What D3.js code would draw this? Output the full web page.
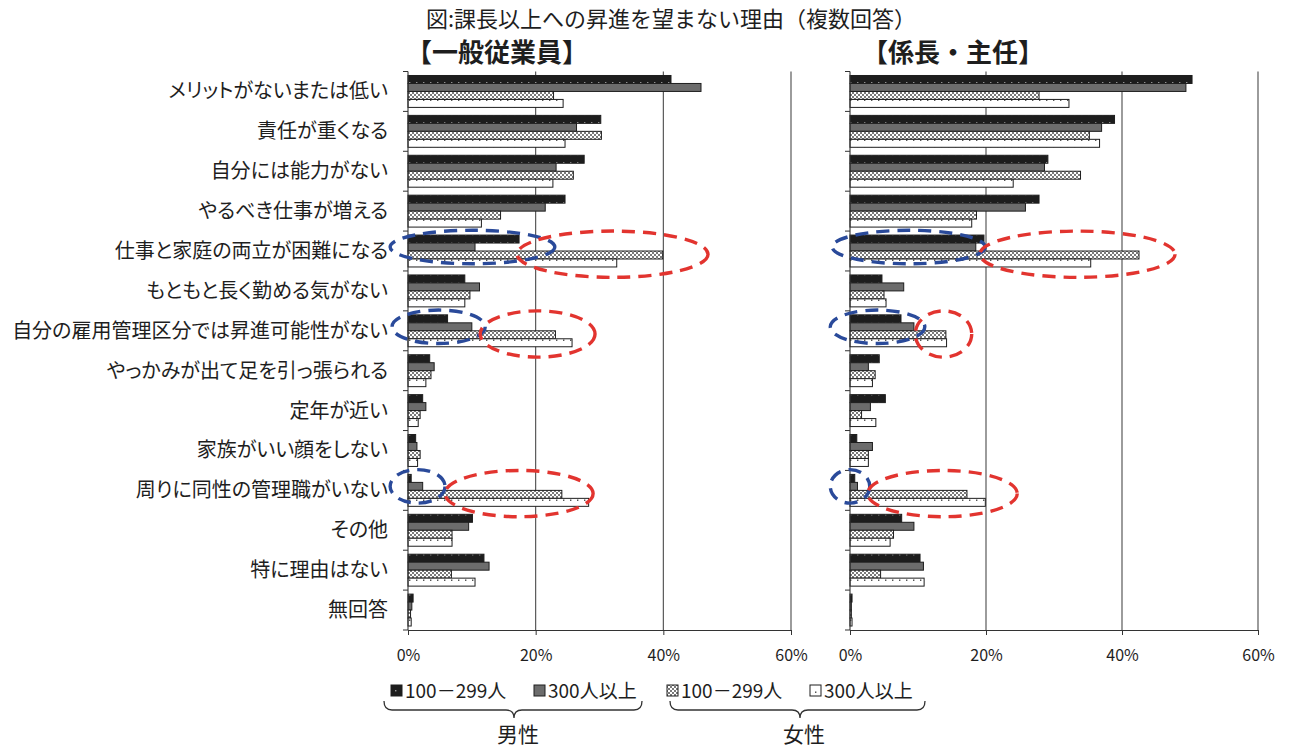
<!DOCTYPE html>
<html><head><meta charset="utf-8">
<script src="https://cdn.jsdelivr.net/npm/d3@7"></script>
<style>
html,body{margin:0;padding:0;background:#fff;}
svg{display:block;font-family:"Noto Sans CJK JP","Noto Sans",sans-serif;}
.lbl{font-feature-settings:"palt";}
</style></head><body>
<svg id="chart" width="1289" height="752"></svg>
<script>
// 理由（カテゴリ）
const categories = [
  "メリットがないまたは低い",
  "責任が重くなる",
  "自分には能力がない",
  "やるべき仕事が増える",
  "仕事と家庭の両立が困難になる",
  "もともと長く勤める気がない",
  "自分の雇用管理区分では昇進可能性がない",
  "やっかみが出て足を引っ張られる",
  "定年が近い",
  "家族がいい顔をしない",
  "周りに同性の管理職がいない",
  "その他",
  "特に理由はない",
  "無回答"
];

const chartTitle = "図:課長以上への昇進を望まない理由（複数回答）";
const panelTitles = ["【一般従業員】", "【係長・主任】"];
const legendLabels = ["100－299人", "300人以上", "100－299人", "300人以上"];
const groupLabels = ["男性", "女性"];
const xTicks = [0, 20, 40, 60];

// 一般従業員（%）
const ippanMale100   = [41.2, 30.2, 27.6, 24.6, 17.4, 8.9, 6.2, 3.4, 2.3, 1.2, 0.5, 10.1, 11.9, 0.8];
const ippanMale300   = [45.9, 26.4, 23.2, 21.5, 10.5, 11.2, 10.0, 4.1, 2.8, 1.4, 2.3, 9.5, 12.7, 0.6];
const ippanFemale100 = [22.8, 30.3, 25.9, 14.5, 39.9, 9.7, 23.1, 3.6, 1.9, 1.9, 24.1, 6.9, 6.8, 0.4];
const ippanFemale300 = [24.3, 24.6, 22.7, 11.5, 32.7, 8.9, 25.7, 2.8, 1.6, 1.5, 28.3, 6.9, 10.5, 0.5];

// 係長・主任（%）
const kakariMale100   = [50.3, 38.9, 29.1, 27.8, 19.7, 4.7, 7.5, 4.3, 5.2, 1.0, 0.7, 7.6, 10.3, 0.3];
const kakariMale300   = [49.4, 37.0, 28.6, 25.8, 18.5, 7.9, 9.4, 2.7, 3.0, 3.3, 1.1, 9.4, 10.8, 0.2];
const kakariFemale100 = [27.8, 35.2, 33.9, 18.6, 42.5, 5.0, 14.1, 3.7, 1.7, 2.7, 17.2, 6.4, 4.5, 0.2];
const kakariFemale300 = [32.2, 36.7, 24.0, 17.9, 35.4, 5.3, 14.2, 3.3, 3.8, 2.7, 19.9, 5.9, 10.9, 0.3];

// 強調の囲み：パネル, カテゴリ番号, 範囲（%）, 色
const markPanel = [0, 0, 0, 0, 0, 0, 1, 1, 1, 1, 1, 1];
const markCat   = [4, 4, 6, 6, 10, 10, 4, 4, 6, 6, 10, 10];
const markLo    = [-2.8, 17.1, -2.5, 11.3, -2.8, 5.8, -2.6, 19.1, -2.9, 9.6, -2.9, 2.6];
const markHi    = [23.0, 47.0, 12.1, 29.3, 5.8, 29.0, 19.9, 47.8, 11.0, 17.9, 2.9, 24.6];
const markKind  = ["b", "r", "b", "r", "b", "r", "b", "r", "b", "r", "b", "r"];

const svg = d3.select("#chart");
const defs = svg.append("defs");

// 塗りパターン
const pDark = defs.append("pattern").attr("id", "pDark").attr("patternUnits", "userSpaceOnUse")
  .attr("width", 7).attr("height", 8);
pDark.append("rect").attr("width", 7).attr("height", 8).attr("fill", "#1d1d1d");
pDark.append("rect").attr("x", 3).attr("y", 2).attr("width", 1.4).attr("height", 1.4).attr("fill", "#9a9a9a");

const pCheck = defs.append("pattern").attr("id", "pCheck").attr("patternUnits", "userSpaceOnUse")
  .attr("width", 4).attr("height", 4);
pCheck.append("rect").attr("width", 4).attr("height", 4).attr("fill", "#fff");
pCheck.append("rect").attr("width", 2).attr("height", 2).attr("fill", "#7a7a7a");
pCheck.append("rect").attr("x", 2).attr("y", 2).attr("width", 2).attr("height", 2).attr("fill", "#7a7a7a");

const pWhite = defs.append("pattern").attr("id", "pWhite").attr("patternUnits", "userSpaceOnUse")
  .attr("width", 7).attr("height", 8);
pWhite.append("rect").attr("width", 7).attr("height", 8).attr("fill", "#fff");
pWhite.append("rect").attr("x", 3).attr("y", 3.5).attr("width", 1.4).attr("height", 1.4).attr("fill", "#444");

const seriesFill = ["url(#pDark)", "#6c6c6c", "url(#pCheck)", "url(#pWhite)"];
const ink = "#1e1e1e";

const panels = [
  { title: panelTitles[0], titleX: 406, range: [408, 791],
    series: [ippanMale100, ippanMale300, ippanFemale100, ippanFemale300] },
  { title: panelTitles[1], titleX: 862, range: [850, 1258],
    series: [kakariMale100, kakariMale300, kakariFemale100, kakariFemale300] }
];

const plotTop = 71.5, plotBottom = 630;
const y = d3.scaleBand().domain(d3.range(categories.length))
  .range([plotTop, plotBottom]).paddingInner(0.2).paddingOuter(0.1);
const step = y.step();
const ySub = d3.scaleBand().domain(d3.range(4)).range([0, y.bandwidth()]);

// タイトル
svg.append("text").attr("x", 671).attr("y", 27)
  .attr("text-anchor", "middle").attr("font-size", 22).attr("fill", ink).text(chartTitle);

// カテゴリラベル
svg.append("g").selectAll("text").data(categories).join("text")
  .attr("class", "lbl")
  .attr("x", 388).attr("y", (d, i) => y(i) + y.bandwidth() / 2)
  .attr("dy", "0.35em").attr("text-anchor", "end")
  .attr("font-size", 20).attr("fill", ink).text(d => d);

panels.forEach((p, pi) => {
  const x = d3.scaleLinear().domain([0, 60]).range(p.range);
  const g = svg.append("g");

  g.append("text").attr("x", p.titleX).attr("y", 62).attr("font-size", 26)
    .attr("font-weight", 700).attr("fill", ink).text(p.title);

  // 目盛り線
  g.append("g").selectAll("line").data(xTicks.slice(1)).join("line")
    .attr("x1", d => x(d)).attr("x2", d => x(d))
    .attr("y1", plotTop).attr("y2", plotBottom)
    .attr("stroke", "#4a4a4a").attr("stroke-width", 1.1);

  // 棒
  p.series.forEach((vals, si) => {
    g.append("g").selectAll("rect").data(vals).join("rect")
      .attr("x", x(0))
      .attr("y", (d, i) => y(i) + ySub(si))
      .attr("width", d => Math.max(0, x(d) - x(0)))
      .attr("height", ySub.bandwidth())
      .attr("fill", seriesFill[si])
      .attr("stroke", ink).attr("stroke-width", 1);
  });

  // X軸
  const ax = g.append("g").attr("transform", `translate(0,${plotBottom})`)
    .call(d3.axisBottom(x).tickValues(xTicks).tickFormat(d => d + "%").tickSize(5).tickPadding(15));
  ax.select(".domain").attr("stroke", "#333");
  ax.selectAll(".tick line").attr("stroke", "#333");
  ax.selectAll("text").attr("font-size", 16).attr("fill", ink)
    .attr("font-family", '"Noto Sans CJK JP","Noto Sans",sans-serif');

  // Y軸（区切り目盛り）
  g.append("line").attr("x1", x(0)).attr("x2", x(0)).attr("y1", plotTop).attr("y2", plotBottom)
    .attr("stroke", "#333").attr("stroke-width", 1.1);
  g.append("g").selectAll("line").data(d3.range(categories.length + 1)).join("line")
    .attr("x1", x(0) - 5).attr("x2", x(0))
    .attr("y1", i => plotTop + i * step).attr("y2", i => plotTop + i * step)
    .attr("stroke", "#333");

  // 強調の囲み
  d3.range(markPanel.length).filter(k => markPanel[k] === pi).forEach(k => {
    const red = markKind[k] === "r";
    const cy = y(markCat[k]) + y.bandwidth() / 2 + (red ? 0.08 : -0.1) * step;
    g.append("ellipse")
      .attr("cx", (x(markLo[k]) + x(markHi[k])) / 2)
      .attr("cy", cy)
      .attr("rx", (x(markHi[k]) - x(markLo[k])) / 2)
      .attr("ry", (red ? 0.58 : 0.42) * step)
      .attr("fill", "none")
      .attr("stroke", red ? "#e2342f" : "#2a4a9a")
      .attr("stroke-width", 3.4)
      .attr("stroke-dasharray", "13 8");
  });
});

// 凡例
const legendX = [391, 534, 667, 810];
const lg = svg.append("g");
legendLabels.forEach((t, i) => {
  lg.append("rect").attr("x", legendX[i]).attr("y", 685).attr("width", 11).attr("height", 11)
    .attr("fill", seriesFill[i]).attr("stroke", ink).attr("stroke-width", 1);
  lg.append("text").attr("x", legendX[i] + 14).attr("y", 691).attr("dy", "0.35em")
    .attr("font-size", 19).attr("fill", ink).text(t);
});

// 男女のくくり
function brace(x1, x2, xm) {
  const y0 = 701, y1 = 710, y2 = 718;
  return `M${x1},${y0} Q${x1},${y1} ${x1 + 8},${y1} L${xm - 8},${y1} Q${xm},${y1} ${xm},${y2}` +
         ` Q${xm},${y1} ${xm + 8},${y1} L${x2 - 8},${y1} Q${x2},${y1} ${x2},${y0}`;
}
const braceSpans = [[384, 642, 514], [670, 925, 800]];
braceSpans.forEach((s, i) => {
  lg.append("path").attr("d", brace(s[0], s[1], s[2])).attr("fill", "none")
    .attr("stroke", "#333").attr("stroke-width", 1.3);
  lg.append("text").attr("x", s[2] + 4).attr("y", 735).attr("dy", "0.35em")
    .attr("text-anchor", "middle").attr("font-size", 21).attr("fill", ink).text(groupLabels[i]);
});
</script>
</body></html>
